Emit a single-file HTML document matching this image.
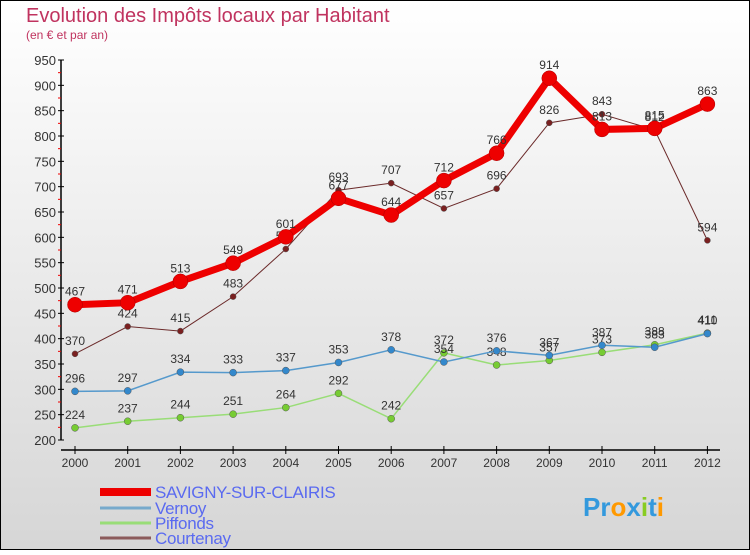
<!DOCTYPE html>
<html><head><meta charset="utf-8"><style>
body{margin:0}
#c{width:750px;height:550px;position:relative;font-family:"Liberation Sans",sans-serif}
</style></head><body>
<div id="c">
<svg width="750" height="550" font-family="Liberation Sans, sans-serif">
<defs><linearGradient id="bg" x1="0" y1="0" x2="0" y2="1"><stop offset="0" stop-color="#ffffff"/><stop offset="1" stop-color="#d6d6d6"/></linearGradient></defs>
<rect x="0.5" y="0.5" width="749" height="549" fill="url(#bg)" stroke="#000"/>
<text x="26" y="22" font-size="20" fill="#c0335f">Evolution des Impôts locaux par Habitant</text>
<text x="26" y="39" font-size="12" fill="#c0335f">(en € et par an)</text>
<g id="axes"></g><g id="series"></g><g id="legend"></g>
</svg></div>
<script>
const years=["2000","2001","2002","2003","2004","2005","2006","2007","2008","2009","2010","2011","2012"];
const yTicks=[200,250,300,350,400,450,500,550,600,650,700,750,800,850,900,950];
const savigny=[467,471,513,549,601,677,644,712,766,914,813,815,863];
const vernoy=[296,297,334,333,337,353,378,354,376,367,387,383,410];
const piffonds=[224,237,244,251,264,292,242,372,348,357,373,388,411];
const courtenay=[370,424,415,483,577,693,707,657,696,826,843,812,594];
const names=["SAVIGNY-SUR-CLAIRIS","Vernoy","Piffonds","Courtenay"];
const NS="http://www.w3.org/2000/svg";
const xS=i=>75+i*52.7;
const yS=v=>440-(v-200)*(380/750);
function mk(t,a,p){const e=document.createElementNS(NS,t);for(const k in a)e.setAttribute(k,a[k]);p.appendChild(e);return e;}
const ax=document.getElementById('axes');
let e=mk('line',{x1:61,y1:60,x2:61,y2:440,stroke:'#000','stroke-width':1.5},ax);


e=mk('line',{x1:61,y1:450,x2:720,y2:450,stroke:'#000','stroke-width':1.5},ax);


yTicks.forEach((v,i)=>{
  const y=yS(v);
  mk('line',{x1:58,y1:y,x2:64,y2:y,stroke:'#000'},ax);
  if(i<yTicks.length-1){mk('line',{x1:58,y1:yS(v+25),x2:61,y2:yS(v+25),stroke:'#e00'},ax);}
  const t=mk('text',{x:56,y:y+5,'text-anchor':'end','font-size':13,fill:'#333'},ax);t.textContent=v;
  
  
});
years.forEach((yr,i)=>{
  const x=xS(i);
  mk('line',{x1:x,y1:446,x2:x,y2:454,stroke:'#000'},ax);
  const t=mk('text',{x:x,y:467,'text-anchor':'middle','font-size':12,fill:'#333'},ax);t.textContent=yr;
  
  
});
const sg=document.getElementById('series');
const cfg=[[courtenay,'#6b2a2a',1,'#7a2020',3,'courtenay'],[piffonds,'#99dd77',1.5,'#77cc33',3.5,'piffonds'],[vernoy,'#5599cc',1.5,'#3388cc',3.5,'vernoy'],[savigny,'#ee0000',7,'#ee0000',7.5,'savigny']];
cfg.forEach(([d,c,w,mc,r,n])=>{
  const p=mk('polyline',{points:d.map((v,i)=>xS(i)+','+yS(v)).join(' '),fill:'none',stroke:c,'stroke-width':w},sg);
  
  
  d.forEach((v,i)=>{
    const m=mk('circle',{cx:xS(i),cy:yS(v),r:r,fill:mc,stroke:n==='savigny'?'#aa0000':'#555','stroke-width':0.5},sg);
    
    
    const t=mk('text',{x:xS(i),y:yS(v)-9,'text-anchor':'middle','font-size':12,fill:'#333'},sg);t.textContent=v;
    
    
  });
});
const lg=document.getElementById('legend');
const lc=[['#ee0000',8],['#77aacc',3],['#99dd77',3],['#8b5a5a',3]];
names.forEach((nm,i)=>{
  const y=[492,508,523,538][i];
  const l=mk('line',{x1:100,y1:y,x2:151,y2:y,stroke:lc[i][0],'stroke-width':lc[i][1]},lg);
  
  
  const t=mk('text',{x:155,y:y+6,'font-size':17,fill:'#5a6af0','letter-spacing':'-0.3'},lg);t.textContent=nm;
  
  
});
const px=mk('text',{x:583,y:516,'font-size':26,'font-weight':'bold',fill:'#3399dd'},lg);
px.innerHTML='<tspan fill="#3399dd">Pr</tspan><tspan fill="#ff9900">o</tspan><tspan fill="#3399dd">x</tspan><tspan fill="#88cc22">i</tspan><tspan fill="#3399dd">t</tspan><tspan fill="#ff9900">i</tspan>';


</script>
</body></html>
